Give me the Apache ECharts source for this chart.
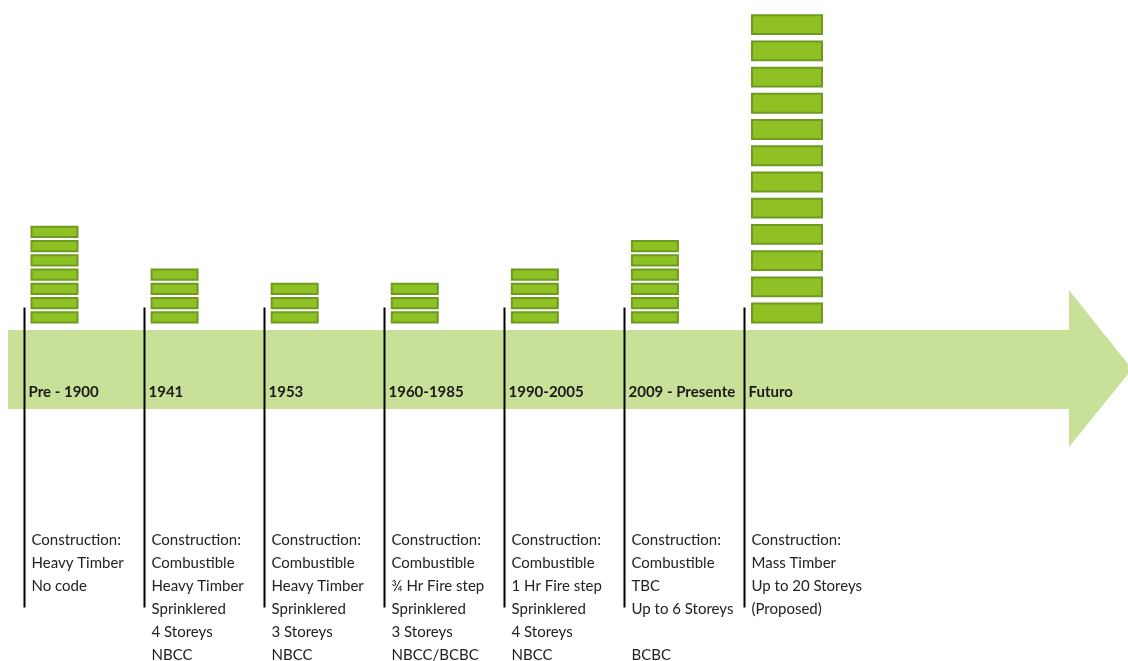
<!DOCTYPE html>
<html>
<head>
<meta charset="utf-8">
<script src="https://cdn.jsdelivr.net/npm/echarts@6/dist/echarts.min.js"></script>
<style>
html,body{margin:0;padding:0;background:#fff;}
#chart{width:1128px;height:661px;}
</style>
</head>
<body>
<div id="chart"></div>
<script>
// ---- data ----
const eras = ['Pre - 1900', '1941', '1953', '1960-1985', '1990-2005', '2009 - Presente', 'Futuro'];
const storeyBlocks = [7, 4, 3, 3, 4, 6, 12];
const descriptions = [
  ['Construction:', 'Heavy Timber', 'No code'],
  ['Construction:', 'Combustible', 'Heavy Timber', 'Sprinklered', '4 Storeys', 'NBCC'],
  ['Construction:', 'Combustible', 'Heavy Timber', 'Sprinklered', '3 Storeys', 'NBCC'],
  ['Construction:', 'Combustible', '\u00BE Hr Fire step', 'Sprinklered', '3 Storeys', 'NBCC/BCBC'],
  ['Construction:', 'Combustible', '1 Hr Fire step', 'Sprinklered', '4 Storeys', 'NBCC'],
  ['Construction:', 'Combustible', 'TBC', 'Up to 6 Storeys', '', 'BCBC'],
  ['Construction:', 'Mass Timber', 'Up to 20 Storeys', '(Proposed)']
];
const yMax = 22;

// ---- build series data ----
const blockData = [];
storeyBlocks.forEach((n, i) => { for (let l = 0; l < n; l++) blockData.push([i, l]); });
const eraData = eras.map((e, i) => [i, 0]);

const FONT = 'Lato';

function renderBlock(params, api) {
  const era = api.value(0), level = api.value(1);
  const proposed = era === eras.length - 1;
  const base = api.coord([era, 0]);
  const unit = api.size([0, 1])[1];
  const pitch = unit * (proposed ? 1.84 : 1);
  const h = pitch * 0.72;
  const w = proposed ? 70 : 46;
  const x = base[0] + 8;
  const y = base[1] - level * pitch - h - 1;
  return {
    type: 'rect',
    shape: { x: x, y: y, width: w, height: h },
    style: { fill: '#8fc124', stroke: '#6e9a1f', lineWidth: 2 }
  };
}

function renderEra(params, api) {
  const i = api.value(0);
  const base = api.coord([i, 0]);
  const x = Math.round(base[0]) + 0.5;
  return {
    type: 'group',
    children: [
      { type: 'line', shape: { x1: x, y1: base[1] - 16, x2: x, y2: base[1] + 284 },
        style: { stroke: '#000', lineWidth: 2 } },
      { type: 'text', x: x + 4, y: base[1] + 69,
        style: { text: eras[i], fontFamily: FONT, fontWeight: 'bold', fontSize: 15,
                 fill: '#1a1a1a', verticalAlign: 'middle', align: 'left' } },
      { type: 'text', x: x + 7, y: base[1] + 205,
        style: { text: descriptions[i].join('\n'), fontFamily: FONT, fontSize: 15,
                 lineHeight: 23, fill: '#222', verticalAlign: 'top', align: 'left' } }
    ]
  };
}

const chart = echarts.init(document.getElementById('chart'), null, { renderer: 'canvas' });
chart.setOption({
  animation: false,
  backgroundColor: '#fff',
  graphic: [{
    type: 'polygon', z: 0,
    shape: { points: [[8, 330], [1069, 330], [1069, 290], [1132, 369], [1069, 447], [1069, 409], [8, 409]] },
    style: { fill: '#c8e098' }
  }],
  grid: { left: 23.5, right: 384, top: 10, bottom: 337.5 },
  xAxis: { type: 'category', data: eras, boundaryGap: false, show: false },
  yAxis: { type: 'value', min: 0, max: yMax, show: false },
  series: [
    { type: 'custom', name: 'eras', data: eraData, renderItem: renderEra, clip: false, z: 3 },
    { type: 'custom', name: 'storeys', data: blockData, renderItem: renderBlock, clip: false, z: 4 }
  ]
});
</script>
</body>
</html>
